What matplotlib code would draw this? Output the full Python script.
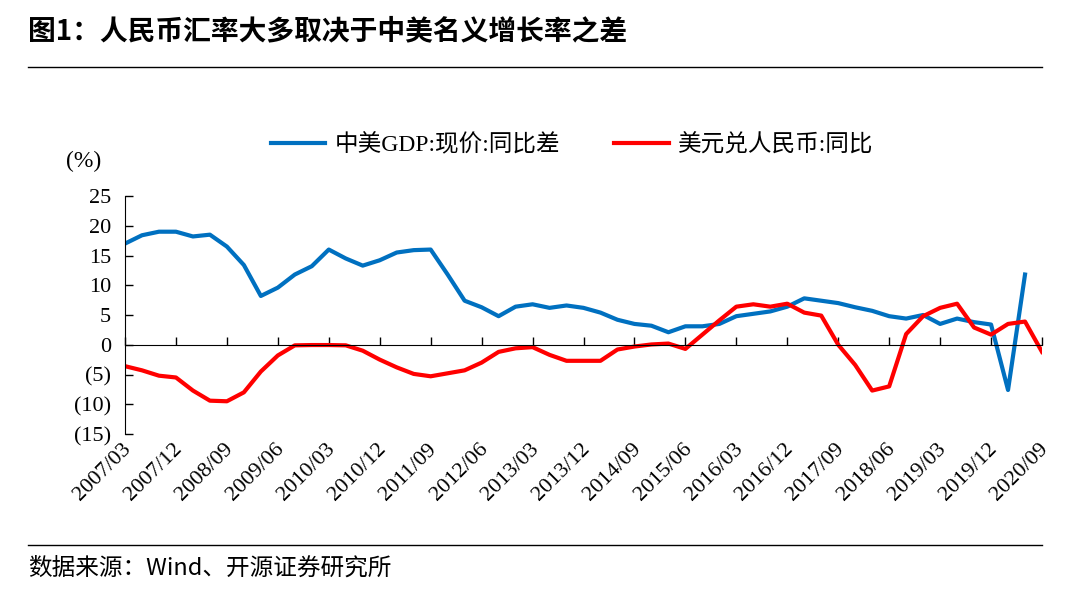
import numpy as np
import matplotlib
matplotlib.use('Agg')
import matplotlib.pyplot as plt
from matplotlib.lines import Line2D

# 季度数据 2007/03 - 2020/09
quarters = [f'{y}/{m:02d}' for y in range(2007, 2021) for m in (3, 6, 9, 12)][:55]

# 中美GDP:现价:同比差（最后一个季度无数据）
gdp_diff = [17.0, 18.4, 19.0, 19.0, 18.2, 18.5, 16.5, 13.4, 8.2, 9.6,
            11.8, 13.2, 16.0, 14.5, 13.3, 14.2, 15.5, 15.9, 16.0, 11.8,
            7.4, 6.3, 4.8, 6.4, 6.8, 6.2, 6.6, 6.2, 5.4, 4.2,
            3.5, 3.2, 2.1, 3.1, 3.1, 3.5, 4.8, 5.2, 5.6, 6.4,
            7.8, 7.4, 7.0, 6.3, 5.7, 4.8, 4.4, 5.0, 3.5, 4.4,
            3.8, 3.4, -7.6, 11.8, np.nan]

# 美元兑人民币:同比
usdcny_yoy = [-3.6, -4.3, -5.2, -5.5, -7.7, -9.4, -9.5, -8.0, -4.5, -1.8,
              -0.1, -0.05, -0.05, -0.1, -1.0, -2.5, -3.8, -4.9, -5.3, -4.8,
              -4.3, -3.0, -1.2, -0.6, -0.4, -1.7, -2.7, -2.7, -2.7, -0.8,
              -0.3, 0.05, 0.2, -0.7, 1.7, 4.1, 6.4, 6.8, 6.4, 6.9,
              5.4, 4.9, 0.0, -3.4, -7.7, -7.0, 1.8, 4.8, 6.2, 6.9,
              2.9, 1.7, 3.5, 3.9, -1.2]

tick_labels = quarters[::3]
yticks = [25, 20, 15, 10, 5, 0, -5, -10, -15]

serif = ['Liberation Serif', 'Noto Sans CJK SC']
cjk = ['Noto Sans CJK SC', 'DejaVu Sans']
plt.rcParams['font.family'] = serif


def fmt(v):
    return f'({abs(v)})' if v < 0 else str(v)


def main():
    fig = plt.figure(figsize=(10.69, 5.96), dpi=100)
    ax = fig.add_axes([125 / 1069, 1 - 434 / 596, (1042 - 125) / 1069, (434 - 196) / 596])

    x = np.arange(len(quarters))
    ax.plot(x, gdp_diff, color='#0070C0', lw=3, label='中美GDP:现价:同比差')
    ax.plot(x, usdcny_yoy, color='#FF0000', lw=3, label='美元兑人民币:同比')

    ax.set_xlim(0, len(quarters) - 1)
    ax.set_ylim(-15, 25)
    ax.set_yticks(yticks)
    ax.set_yticklabels([fmt(v) for v in yticks], fontsize=16)
    ax.tick_params(axis='y', direction='in', length=6, width=1, pad=10)

    ax.spines['top'].set_visible(False)
    ax.spines['right'].set_visible(False)
    ax.spines['bottom'].set_position(('data', 0))
    ax.set_xticks(x[::3])
    ax.tick_params(axis='x', direction='in', length=6, width=1, labelbottom=False)
    for xi, lab in zip(x[::3], tick_labels):
        ax.text(xi + 0.6, -0.025, lab, transform=ax.get_xaxis_transform(),
                rotation=45, ha='right', va='top', fontsize=16)

    ax.text(-0.064, 1.1, '(%)', transform=ax.transAxes, fontsize=17, ha='left', va='bottom')

    ax.legend(loc='center', bbox_to_anchor=(572 / 1069, 1 - 145 / 596),
              bbox_transform=fig.transFigure, ncol=2, frameon=False,
              fontsize=17, handlelength=2.3, columnspacing=2.3, handletextpad=0.4)

    fig.text(28 / 1069, 1 - 31 / 596, '图1：人民币汇率大多取决于中美名义增长率之差',
             family=cjk, fontsize=20, fontweight='bold', va='center')
    fig.add_artist(Line2D([28 / 1069, 1042 / 1069], [1 - 67 / 596] * 2, color='black', lw=1))
    fig.add_artist(Line2D([28 / 1069, 1042 / 1069], [1 - 545 / 596] * 2, color='black', lw=1))
    fig.text(28 / 1069, 1 - 568 / 596, '数据来源：Wind、开源证券研究所',
             family=cjk, fontsize=17, va='center')

    fig.savefig('out.png', dpi=100)


if __name__ == "__main__":
    main()
